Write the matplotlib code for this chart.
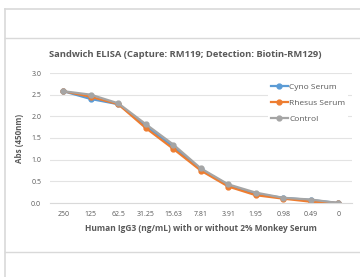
import numpy as np
import matplotlib.pyplot as plt
from matplotlib.lines import Line2D

# Dilution series (ng/mL) and absorbance readings
concentrations = ['250', '125', '62.5', '31.25', '15.63', '7.81', '3.91', '1.95', '0.98', '0.49', '0']
cyno = [2.58, 2.40, 2.28, 1.78, 1.30, 0.78, 0.41, 0.21, 0.12, 0.07, 0.0]
rhesus = [2.58, 2.45, 2.28, 1.73, 1.25, 0.75, 0.38, 0.18, 0.10, 0.03, 0.0]
control = [2.58, 2.50, 2.30, 1.82, 1.35, 0.80, 0.43, 0.24, 0.12, 0.08, 0.0]

plt.rcParams['font.family'] = ['Open Sans', 'DejaVu Sans']
text_color = '#595959'

fig = plt.figure(figsize=(3.6, 2.77), dpi=100)

# frame lines around the chart (screenshot borders)
border = '#d9d9d9'
fig.add_artist(Line2D([5/360, 1], [1 - 9/277, 1 - 9/277], color=border, lw=1.2))
fig.add_artist(Line2D([5/360, 5/360], [0, 1 - 9/277], color=border, lw=1.2))
fig.add_artist(Line2D([5/360, 1], [1 - 38/277, 1 - 38/277], color=border, lw=1.0))
fig.add_artist(Line2D([5/360, 1], [1 - 252/277, 1 - 252/277], color=border, lw=1.0))

ax = fig.add_axes([49.5/360, 1 - 203/277, (352 - 49.5)/360, (203 - 73)/277])
x = np.arange(len(concentrations))

ax.plot(x, cyno, color='#5B9BD5', marker='o', ms=3.5, lw=1.6, label='Cyno Serum')
ax.plot(x, rhesus, color='#ED7D31', marker='o', ms=3.5, lw=1.6, label='Rhesus Serum')
ax.plot(x, control, color='#A5A5A5', marker='o', ms=3.5, lw=1.6, label='Control')

ax.set_xlim(-0.5, len(concentrations) - 0.5)
ax.set_ylim(0, 3.0)
ax.set_yticks(np.arange(0, 3.01, 0.5))
ax.set_yticklabels([f'{v:.1f}' for v in np.arange(0, 3.01, 0.5)])
ax.set_xticks(x)
ax.set_xticklabels(concentrations)
ax.grid(axis='y', color='#e3e3e3', lw=0.8)
ax.set_axisbelow(True)
for s in ax.spines.values():
    s.set_visible(False)
ax.spines['bottom'].set_visible(True)
ax.spines['bottom'].set_color('#d9d9d9')
ax.tick_params(length=0, labelsize=5, colors=text_color, pad=6)

fig.text(185.5/360, 1 - 55/277, 'Sandwich ELISA (Capture: RM119; Detection: Biotin-RM129)',
         fontsize=6.75, fontweight='bold', color=text_color, ha='center', va='center')
ax.set_ylabel('Abs (450nm)', fontsize=5.8, fontweight='bold', color=text_color, labelpad=5)
ax.set_xlabel('Human IgG3 (ng/mL) with or without 2% Monkey Serum',
              fontsize=6.0, fontweight='bold', color=text_color, labelpad=4)

leg = ax.legend(loc='upper right', bbox_to_anchor=(1.0, 0.975), frameon=True, fontsize=6.0,
                handlelength=2.0, handletextpad=0.2, labelspacing=1.0,
                borderpad=0.3, framealpha=1)
leg.get_frame().set_edgecolor('none')
for t in leg.get_texts():
    t.set_color(text_color)

plt.savefig('out.png', dpi=100)
